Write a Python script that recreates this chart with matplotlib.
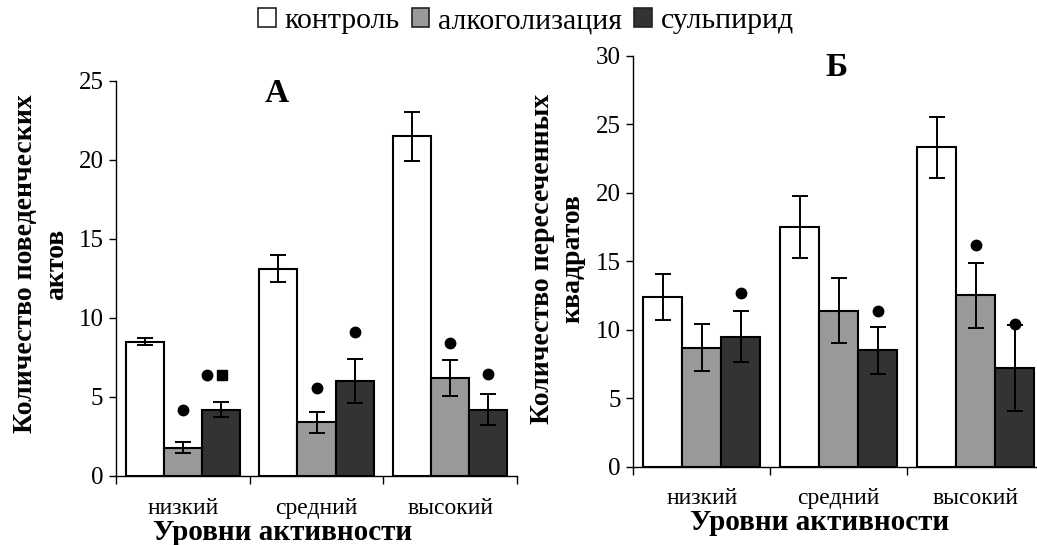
import matplotlib
matplotlib.use("Agg")
import matplotlib.pyplot as plt
from matplotlib.patches import Patch
import numpy as np

plt.rcParams['font.family'] = ['Liberation Serif', 'DejaVu Serif']

# data
levels = ["низкий", "средний", "высокий"]
groups = ["контроль", "алкоголизация", "сульпирид"]
colors = ["#ffffff", "#999999", "#333333"]

acts_mean = [[8.5, 13.1, 21.5],   # контроль
             [1.8, 3.4, 6.2],     # алкоголизация
             [4.2, 6.0, 4.2]]     # сульпирид
acts_err = [[0.2, 0.85, 1.55],
            [0.35, 0.67, 1.15],
            [0.5, 1.37, 0.96]]

squares_mean = [[12.4, 17.5, 23.3],
                [8.7, 11.4, 12.5],
                [9.5, 8.5, 7.2]]
squares_err = [[1.7, 2.25, 2.25],
               [1.72, 2.4, 2.37],
               [1.83, 1.7, 3.15]]

# significance marks: (level index, group index, y, symbols)
acts_marks_level = [0, 0, 1, 1, 2, 2]
acts_marks_group = [1, 2, 1, 2, 1, 2]
acts_marks_y = [4.15, 6.4, 5.55, 9.1, 8.4, 6.45]
acts_marks_sym = ["o", "os", "o", "o", "o", "o"]

sq_marks_level = [0, 1, 2, 2]
sq_marks_group = [2, 2, 1, 2]
sq_marks_y = [12.7, 11.4, 16.2, 10.4]
sq_marks_sym = ["o", "o", "o", "o"]

W, H = 1037, 545
fig = plt.figure(figsize=(W / 100, H / 100), dpi=100)

bar_w = 0.285


def draw_panel(ax, means, errs, ymax, m_lvl, m_grp, m_y, m_sym, letter, letter_xy, lab_pad):
    x = np.arange(len(levels)) + 0.5
    for i in range(len(groups)):
        xs = x + (i - 1) * bar_w
        ax.bar(xs, means[i], bar_w, color=colors[i], edgecolor="black",
               linewidth=1.5, zorder=2)
        ax.errorbar(xs, means[i], yerr=errs[i], fmt="none", ecolor="black",
                    elinewidth=1.4, capsize=6, capthick=1.4, zorder=3)
    for lv, g, yv, sym in zip(m_lvl, m_grp, m_y, m_sym):
        xc = x[lv] + (g - 1) * bar_w
        n = len(sym)
        for k, s in enumerate(sym):
            off = (k - (n - 1) / 2) * 0.11 - (0.05 if n > 1 else 0)
            ax.plot(xc + off, yv, marker=s, color="black", markersize=7.5,
                    linestyle="none", zorder=4, clip_on=False)
    ax.set_xlim(0, len(levels))
    ax.set_ylim(0, ymax)
    ax.set_yticks(np.arange(0, ymax + 1, 5))
    ax.set_xticks(np.arange(len(levels) + 1))
    ax.set_xticklabels([])
    ax.set_xticks(x, minor=True)
    ax.set_xticklabels(levels, minor=True)
    ax.tick_params(axis="x", which="minor", length=0, pad=lab_pad, labelsize=17)
    ax.tick_params(axis="x", which="major", direction="out", length=6, width=1)
    ax.tick_params(axis="y", direction="out", length=5, width=1, labelsize=18, pad=4)
    for sp in ["top", "right"]:
        ax.spines[sp].set_visible(False)
    for sp in ["left", "bottom"]:
        ax.spines[sp].set_linewidth(1)
    ax.text(letter_xy[0], letter_xy[1], letter, transform=fig.transFigure,
            ha="center", va="center", fontsize=24, fontweight="bold")


axA = fig.add_axes([116 / W, 1 - 476 / H, 401 / W, 395.3 / H])
draw_panel(axA, acts_mean, acts_err, 25, acts_marks_level, acts_marks_group,
           acts_marks_y, acts_marks_sym, "А", (277 / W, 1 - 93 / H), 16)

axB = fig.add_axes([633.3 / W, 1 - 466.7 / H, 411 / W, 411 / H])
draw_panel(axB, squares_mean, squares_err, 30, sq_marks_level, sq_marks_group,
           sq_marks_y, sq_marks_sym, "Б", (836 / W, 1 - 68 / H), 15)

fig.text(41 / W, 1 - 264 / H, "Количество поведенческих\nактов", rotation=90,
         ha="center", va="center", multialignment="center", fontsize=20,
         fontweight="bold", linespacing=1.3)
fig.text(558 / W, 1 - 259 / H, "Количество пересеченных\nквадратов", rotation=90,
         ha="center", va="center", multialignment="center", fontsize=20,
         fontweight="bold", linespacing=1.3)
fig.text(283 / W, 1 - 532 / H, "Уровни активности", ha="center", va="center",
         fontsize=21, fontweight="bold")
fig.text(820 / W, 1 - 522 / H, "Уровни активности", ha="center", va="center",
         fontsize=21, fontweight="bold")

handles = [Patch(facecolor=c, edgecolor="#222222", linewidth=1.2) for c in colors]
fig.legend(handles, groups, loc="center", bbox_to_anchor=(526 / W, 1 - 21 / H),
           ncol=3, frameon=False, fontsize=21.5, handlelength=0.6, handleheight=0.6,
           handletextpad=0.3, columnspacing=0.4, borderpad=0)

fig.savefig("out.png", dpi=100)
